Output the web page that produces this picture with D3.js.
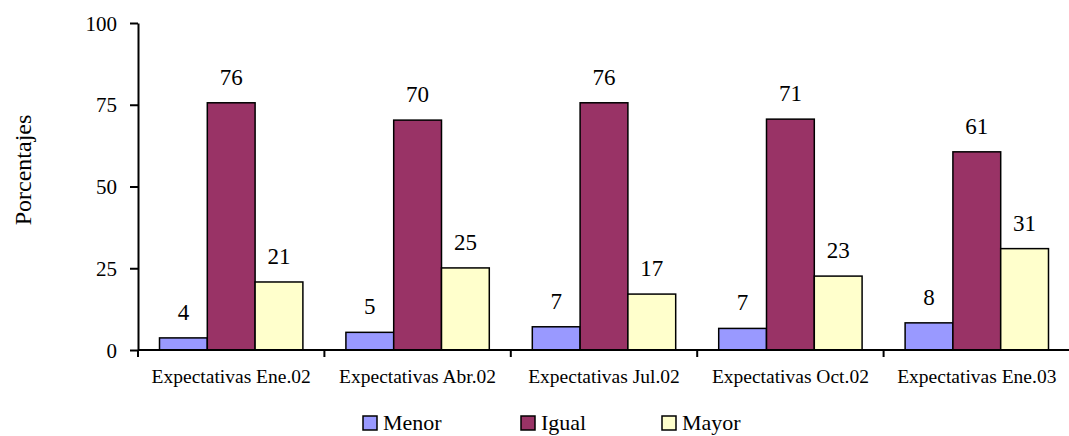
<!DOCTYPE html>
<html>
<head>
<meta charset="utf-8">
<script src="https://cdn.jsdelivr.net/npm/d3@7/dist/d3.min.js"></script>
<style>
  body { margin: 0; background: #fff; }
  text { font-family: "Liberation Serif", "Times New Roman", serif; fill: #000; }
</style>
</head>
<body>
<div id="chart"></div>
<script>
var categories = ["Expectativas Ene.02", "Expectativas Abr.02", "Expectativas Jul.02", "Expectativas Oct.02", "Expectativas Ene.03"];
var series = ["Menor", "Igual", "Mayor"];
var menor = [3.7, 5.4, 7.1, 6.6, 8.3];
var igual = [75.6, 70.3, 75.6, 70.6, 60.6];
var mayor = [20.8, 25.1, 17.1, 22.6, 31.0];
var yTicks = [0, 25, 50, 75, 100];
var colors = ["#9999FF", "#993366", "#FFFFCC"];

var W = 1069, H = 436;
var margin = {top: 23, right: 0, bottom: 86, left: 138};
var plotRight = 1070, plotBottom = 350;

var svg = d3.select("#chart").append("svg")
    .attr("width", W)
    .attr("height", H);

var x0 = d3.scaleBand()
    .domain(categories)
    .range([margin.left, plotRight])
    .padding(0);

var x1 = d3.scaleBand()
    .domain(series)
    .range([0, x0.bandwidth()])
    .paddingInner(0)
    .paddingOuter(0.45);

var y = d3.scaleLinear()
    .domain([0, 100])
    .range([plotBottom, margin.top]);

var color = d3.scaleOrdinal().domain(series).range(colors);

var rows = categories.map(function(c, i) {
  return {cat: c, vals: [
    {s: "Menor", v: menor[i]},
    {s: "Igual", v: igual[i]},
    {s: "Mayor", v: mayor[i]}
  ]};
});

// bars
var g = svg.selectAll(".grp")
    .data(rows)
  .enter().append("g")
    .attr("class", "grp")
    .attr("transform", function(d) { return "translate(" + x0(d.cat) + ",0)"; });

g.selectAll("rect")
    .data(function(d) { return d.vals; })
  .enter().append("rect")
    .attr("x", function(d) { return x1(d.s); })
    .attr("y", function(d) { return y(d.v); })
    .attr("width", x1.bandwidth())
    .attr("height", function(d) { return y(0) - y(d.v); })
    .attr("fill", function(d) { return color(d.s); })
    .attr("stroke", "#000")
    .attr("stroke-width", 1.5);

g.selectAll(".val")
    .data(function(d) { return d.vals; })
  .enter().append("text")
    .attr("class", "val")
    .attr("x", function(d) { return x1(d.s) + x1.bandwidth() / 2; })
    .attr("y", function(d) { return y(d.v) - 18; })
    .attr("text-anchor", "middle")
    .style("font-size", "23px")
    .text(function(d) { return d3.format(".0f")(d.v); });

// y axis
var yAxis = svg.append("g")
    .attr("transform", "translate(" + margin.left + ",0)")
    .call(d3.axisLeft(y).tickValues(yTicks).tickSize(8).tickPadding(13).tickSizeOuter(0));
yAxis.select(".domain").attr("stroke", "#000").attr("stroke-width", 2);
yAxis.selectAll(".tick line").attr("stroke", "#000").attr("stroke-width", 2);
yAxis.selectAll(".tick text").style("font-size", "21px").attr("dy", "0.34em");

// x axis
svg.append("line")
    .attr("x1", margin.left).attr("x2", plotRight)
    .attr("y1", y(0)).attr("y2", y(0))
    .attr("stroke", "#000").attr("stroke-width", 2);

var bounds = categories.map(function(c) { return x0(c); }).concat([plotRight]);
svg.selectAll(".xtick")
    .data(bounds)
  .enter().append("line")
    .attr("x1", function(d) { return d; }).attr("x2", function(d) { return d; })
    .attr("y1", y(0)).attr("y2", y(0) + 7)
    .attr("stroke", "#000").attr("stroke-width", 2);

svg.selectAll(".xlab")
    .data(categories)
  .enter().append("text")
    .attr("x", function(d) { return x0(d) + x0.bandwidth() / 2; })
    .attr("y", 383)
    .attr("text-anchor", "middle")
    .style("font-size", "19.5px")
    .text(function(d) { return d; });

// y title
svg.append("text")
    .attr("transform", "translate(31,170) rotate(-90)")
    .attr("text-anchor", "middle")
    .style("font-size", "24px")
    .text("Porcentajes");

// legend
var legendX = [363, 521, 662];
var lg = svg.selectAll(".leg")
    .data(series)
  .enter().append("g")
    .attr("transform", function(d, i) { return "translate(" + legendX[i] + ",416)"; });
lg.append("rect")
    .attr("width", 14).attr("height", 14)
    .attr("fill", function(d) { return color(d); })
    .attr("stroke", "#000").attr("stroke-width", 1.5);
lg.append("text")
    .attr("x", 20).attr("y", 14)
    .style("font-size", "22px")
    .text(function(d) { return d; });
</script>
</body>
</html>
